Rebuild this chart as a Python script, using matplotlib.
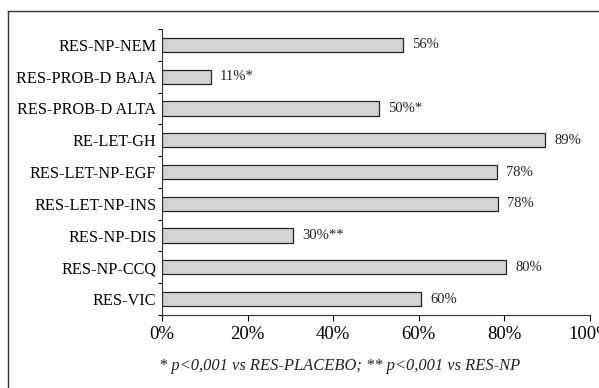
import matplotlib.pyplot as plt
from matplotlib.lines import Line2D

categories = ['RES-NP-NEM', 'RES-PROB-D BAJA', 'RES-PROB-D ALTA', 'RE-LET-GH',
              'RES-LET-NP-EGF', 'RES-LET-NP-INS', 'RES-NP-DIS', 'RES-NP-CCQ', 'RES-VIC']
values = [56.4, 11.4, 50.8, 89.6, 78.2, 78.4, 30.6, 80.4, 60.6]
labels = ['56%', '11%*', '50%*', '89%', '78%', '78%', '30%**', '80%', '60%']
xticks = [0, 20, 40, 60, 80, 100]
footnote = '* p<0,001 vs RES-PLACEBO; ** p<0,001 vs RES-NP'

plt.rcParams['font.family'] = ['Liberation Serif', 'DejaVu Serif']

fig = plt.figure(figsize=(5.99, 3.88), dpi=100)
ax = fig.add_axes([162 / 599, 1 - 315 / 388, 428 / 599, 286 / 388])

n = len(categories)
ypos = [n - 1 - i for i in range(n)]
ax.barh(ypos, values, height=0.45, color='#d4d4d4', edgecolor='#222222', linewidth=0.9)
for y, v, lab in zip(ypos, values, labels):
    ax.text(v + 2.1, y, lab, va='center', ha='left', fontsize=10.5, color='#222222')

ax.set_xlim(0, 100)
ax.set_ylim(-0.5, n - 0.5)
ax.set_xticks(xticks)
ax.set_xticklabels([f'{t}%' for t in xticks], fontsize=13.5)
ax.set_yticks(ypos)
ax.set_yticklabels(categories, fontsize=11.7)
ax.set_yticks([i - 0.5 for i in range(n + 1)], minor=True)
ax.tick_params(axis='y', which='major', length=0, pad=4)
ax.tick_params(axis='y', which='minor', length=3, direction='out', width=0.8)
ax.tick_params(axis='x', length=4, width=0.8, direction='out', pad=4)
for s in ['top', 'right']:
    ax.spines[s].set_visible(False)
for s in ['left', 'bottom']:
    ax.spines[s].set_linewidth(0.8)
    ax.spines[s].set_color('#333333')

fig.text(340 / 599, 1 - 366 / 388, footnote, ha='center', va='center',
         fontsize=11.9, style='italic', color='#222222')

# outer frame
fig.add_artist(Line2D([8 / 599, 1], [1 - 11 / 388] * 2, transform=fig.transFigure,
                      color='#333333', linewidth=1))
fig.add_artist(Line2D([8 / 599] * 2, [0, 1 - 11 / 388], transform=fig.transFigure,
                      color='#333333', linewidth=1))

fig.savefig('out.png', dpi=100)
